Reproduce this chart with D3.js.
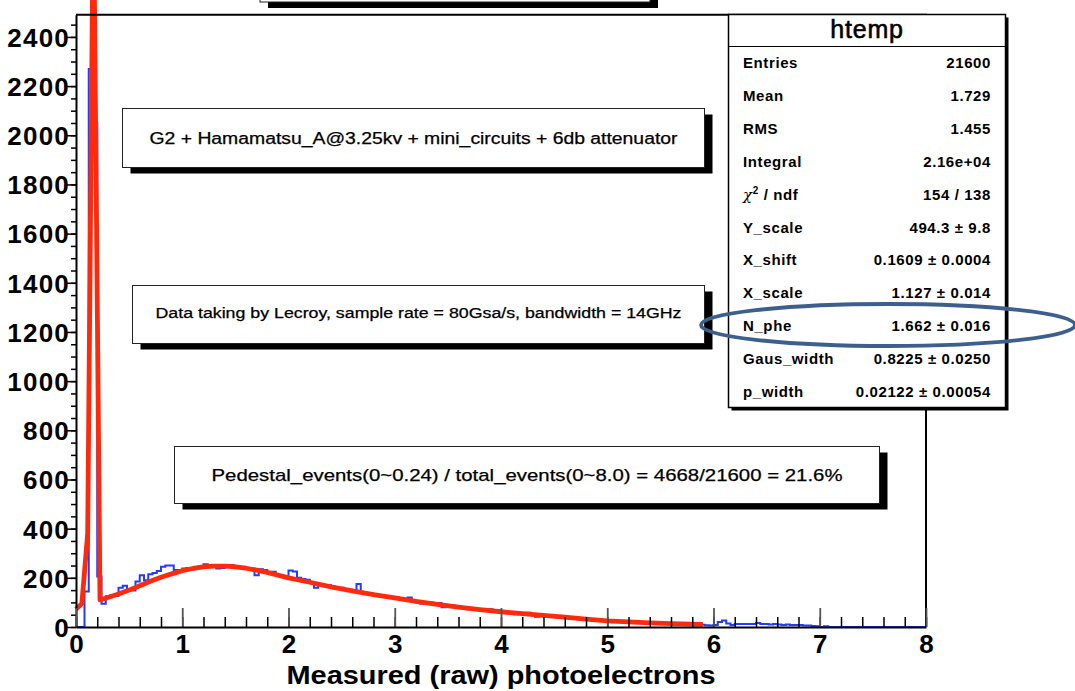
<!DOCTYPE html>
<html>
<head>
<meta charset="utf-8">
<script src="https://cdn.jsdelivr.net/npm/d3@7/dist/d3.min.js"></script>
<style>
  body { margin: 0; background: #fff; }
  svg { display: block; font-family: "Liberation Sans", Arial, Helvetica, sans-serif; }
</style>
</head>
<body>
<div class="chart"></div>
<script>
// histogram htemp: 200 bins of 0.04 from 0 to 8
const xMin = 0;
const xMax = 8;
const binWidth = 0.04;
const counts = [
    0, 0, 144, 2270, 2049, 205, 95, 125, 128, 126,
    160, 168, 150, 148, 185, 210, 190, 215, 220, 228,
    245, 250, 250, 232, 232, 238, 240, 235, 240, 248,
    255, 252, 250, 238, 240, 248, 252, 245, 240, 243,
    237, 238, 210, 235, 232, 220, 225, 212, 208, 205,
    230, 226, 200, 195, 192, 180, 160, 175, 168, 170,
    165, 158, 160, 150, 152, 145, 175, 138, 135, 132,
    130, 128, 125, 120, 118, 120, 112, 115, 120, 108,
    100, 95, 102, 100, 92, 98, 80, 86, 88, 84,
    78, 80, 72, 74, 70, 68, 66, 72, 66, 68,
    60, 58, 56, 52, 54, 50, 58, 48, 42, 46,
    44, 45, 44, 40, 38, 36, 34, 36, 32, 30,
    28, 30, 27, 26, 25, 24, 22, 24, 20, 21,
    19, 18, 20, 16, 17, 15, 16, 14, 15, 12,
    13, 10, 12, 10, 11, 9, 8, 9, 7, 6,
    8, 20, 26, 14, 8, 12, 12, 12, 12, 12,
    16, 12, 12, 10, 12, 10, 8, 10, 8, 8,
    8, 6, 6, 4, 3, 0, 3, 0, 0, 0,
    0, 0, 0, 0, 0, 0, 0, 0, 0, 0,
    0, 0, 0, 0, 0, 0, 0, 0, 0, 0
];

// fitted function
const fitX = [0, 0.055, 0.11, 0.164, 0.226, 0.3, 0.4, 0.5, 0.6, 0.7, 0.8, 0.9, 1.0, 1.1, 1.2, 1.3, 1.4,
    1.5, 1.6, 1.7, 1.8, 1.9, 2.0, 2.2, 2.4, 2.6, 2.8, 3.0, 3.2, 3.4, 3.6, 3.8, 4.0, 4.2, 4.4, 4.6,
    4.8, 5.0, 5.2, 5.4, 5.6, 5.8, 5.9];
const fitY = [72, 95, 380, 3000, 110, 120, 134, 150, 168, 186, 202, 216, 229, 238, 245, 248, 248,
    245, 239, 231, 222, 211, 200, 182, 163, 147, 132, 118, 104, 92, 81, 71, 62, 54, 47, 40,
    32, 25, 21, 17, 14, 12, 11];

const yMax = 2490;
const yTicks = [0, 200, 400, 600, 800, 1000, 1200, 1400, 1600, 1800, 2000, 2200, 2400];
const xTicks = [0, 1, 2, 3, 4, 5, 6, 7, 8];
const xTitle = "Measured (raw) photoelectrons";

const statTitle = "htemp";
const statLabels = ["Entries", "Mean", "RMS", "Integral", "chi2", "Y_scale", "X_shift", "X_scale",
    "N_phe", "Gaus_width", "p_width"];
const statValues = ["21600", "1.729", "1.455", "2.16e+04", "154 / 138", "494.3 \u00b1 9.8",
    "0.1609 \u00b1 0.0004", "1.127 \u00b1 0.014", "1.662 \u00b1 0.016", "0.8225 \u00b1 0.0250",
    "0.02122 \u00b1 0.00054"];

const noteTexts = [
    "G2 + Hamamatsu_A@3.25kv + mini_circuits + 6db attenuator",
    "Data taking by Lecroy, sample rate = 80Gsa/s, bandwidth = 14GHz",
    "Pedestal_events(0~0.24) / total_events(0~8.0) = 4668/21600 = 21.6%"
];

const W = 1075, H = 691;
const frame = { left: 76, right: 926, top: 14.8, bottom: 627 };

const svg = d3.select(".chart").append("svg")
    .attr("width", W)
    .attr("height", H);

const x = d3.scaleLinear().domain([xMin, xMax]).range([frame.left, frame.right]);
const y = d3.scaleLinear().domain([0, yMax]).range([frame.bottom, frame.top]);

// histogram as a step outline
const histPts = counts.map((c, i) => [xMin + i * binWidth, c]);
histPts.push([xMax, counts[counts.length - 1]]);
const stepLine = d3.line()
    .x(d => x(d[0]))
    .y(d => y(d[1]))
    .curve(d3.curveStepAfter);
svg.append("path")
    .attr("d", stepLine(histPts))
    .attr("fill", "none")
    .attr("stroke", "#1f3cff")
    .attr("stroke-width", 2);

// fit curve (drawn over the frame, not clipped)
const fitLine = d3.line()
    .x((d, i) => x(fitX[i]))
    .y(d => y(d));
svg.append("path")
    .attr("d", fitLine(fitY))
    .attr("fill", "none")
    .attr("stroke", "#ff2a0c")
    .attr("stroke-width", 4.8)
    .attr("stroke-linejoin", "round");

// frame (top and right)
svg.append("path")
    .attr("d", `M${frame.left},${frame.top}H${frame.right}V${frame.bottom}`)
    .attr("fill", "none")
    .attr("stroke", "#000")
    .attr("stroke-width", 2);

// y axis: ticks on the outside
const yMinor = d3.range(0, yMax, 50);
svg.append("g")
    .attr("transform", `translate(${frame.left},0)`)
    .call(d3.axisLeft(y).tickValues(yMinor).tickSize(5).tickSizeOuter(0).tickFormat(""))
    .call(g => g.select(".domain").remove())
    .call(g => g.selectAll("line").attr("stroke-width", 1.5));
const yAxis = svg.append("g")
    .attr("transform", `translate(${frame.left},0)`)
    .call(d3.axisLeft(y).tickValues(yTicks).tickSize(9).tickSizeOuter(0).tickFormat(d3.format("d")));
yAxis.select(".domain").attr("stroke-width", 2);
yAxis.selectAll("line").attr("stroke-width", 1.5);
yAxis.selectAll("text")
    .attr("x", -6)
    .attr("dy", "0.36em")
    .attr("font-size", 26)
    .attr("font-weight", "bold")
    .attr("letter-spacing", 1.2)
    .attr("fill", "#000")
    .style("font-family", "'Liberation Sans', Arial, sans-serif");

// x axis: ticks pointing up into the plot
const xMinor = d3.range(0, 8.001, 0.2);
svg.append("g")
    .attr("transform", `translate(0,${frame.bottom})`)
    .call(d3.axisTop(x).tickValues(xMinor).tickSize(10).tickSizeOuter(0).tickFormat(""))
    .call(g => g.select(".domain").remove())
    .call(g => g.selectAll("line").attr("stroke-width", 1.5));
svg.append("g")
    .attr("transform", `translate(0,${frame.bottom})`)
    .call(d3.axisTop(x).tickValues(xTicks).tickSize(19).tickSizeOuter(0).tickFormat(""))
    .call(g => g.select(".domain").remove())
    .call(g => g.selectAll("line").attr("stroke", "#555").attr("stroke-width", 1.8));
const xAxis = svg.append("g")
    .attr("transform", `translate(0,${frame.bottom})`)
    .call(d3.axisBottom(x).tickValues(xTicks).tickSize(0).tickSizeOuter(0).tickFormat(d3.format("d")));
xAxis.select(".domain").attr("stroke-width", 2.2);
xAxis.selectAll("text")
    .attr("y", 8)
    .attr("dy", "0.71em")
    .attr("font-size", 26)
    .attr("font-weight", "bold")
    .attr("fill", "#000")
    .style("font-family", "'Liberation Sans', Arial, sans-serif");

svg.append("text")
    .attr("x", 501)
    .attr("y", 684)
    .attr("text-anchor", "middle")
    .attr("font-size", 26)
    .attr("font-weight", "bold")
    .attr("textLength", 429)
    .attr("lengthAdjust", "spacingAndGlyphs")
    .text(xTitle);

// text boxes with drop shadow
function drawPave(bx, by, bw, bh, off, label, fs, tw, ty) {
    const g = svg.append("g");
    g.append("rect")
        .attr("x", bx + off[0]).attr("y", by + off[1])
        .attr("width", bw).attr("height", bh)
        .attr("fill", "#000");
    g.append("rect")
        .attr("x", bx).attr("y", by)
        .attr("width", bw).attr("height", bh)
        .attr("fill", "#fff")
        .attr("stroke", "#222")
        .attr("stroke-width", 1);
    if (label) {
        g.append("text")
            .attr("x", bx + bw / 2)
            .attr("y", ty)
            .attr("text-anchor", "middle")
            .attr("font-size", fs)
            .attr("stroke", "#000")
            .attr("stroke-width", 0.25)
            .attr("textLength", tw)
            .attr("lengthAdjust", "spacingAndGlyphs")
            .text(label);
    }
    return g;
}

drawPave(260, -40, 390, 42, [8, 6], null);
drawPave(122.5, 108.5, 582, 59, [8, 6], noteTexts[0], 16, 528, 144);
drawPave(132.5, 285.5, 572, 58, [8, 6], noteTexts[1], 14, 526, 318);
drawPave(174.5, 446.5, 705, 57, [8, 6], noteTexts[2], 17, 631, 481);

// statistics box
const sb = { x: 728.5, y: 14.5, w: 277, h: 393 };
svg.append("rect")
    .attr("x", sb.x + 3).attr("y", sb.y + 3)
    .attr("width", sb.w).attr("height", sb.h)
    .attr("fill", "#000");
svg.append("rect")
    .attr("x", sb.x).attr("y", sb.y)
    .attr("width", sb.w).attr("height", sb.h)
    .attr("fill", "#fff")
    .attr("stroke", "#000")
    .attr("stroke-width", 1.5);
svg.append("line")
    .attr("x1", sb.x).attr("x2", sb.x + sb.w)
    .attr("y1", 46.5).attr("y2", 46.5)
    .attr("stroke", "#000")
    .attr("stroke-width", 1.2);
svg.append("text")
    .attr("x", sb.x + sb.w / 2)
    .attr("y", 38)
    .attr("text-anchor", "middle")
    .attr("font-size", 25)
    .attr("letter-spacing", 0.8)
    .attr("stroke", "#000")
    .attr("stroke-width", 0.6)
    .text(statTitle);

const rowY = d3.scalePoint().domain(d3.range(statLabels.length)).range([68, 397]);
const rows = svg.append("g").selectAll("g")
    .data(statLabels)
    .join("g")
    .attr("font-size", 15)
    .attr("font-weight", "bold")
    .attr("letter-spacing", 0.6);
rows.append("text")
    .attr("x", 743)
    .attr("y", (d, i) => rowY(i))
    .each(function (d) {
        const t = d3.select(this);
        if (d === "chi2") {
            t.append("tspan").attr("font-family", "'DejaVu Serif', serif")
                .attr("font-style", "italic").attr("font-weight", "normal").text("\u03c7");
            t.append("tspan").attr("font-size", 10).attr("dy", -6).text("2");
            t.append("tspan").attr("dy", 6).text(" / ndf");
        } else {
            t.text(d);
        }
    });
rows.append("text")
    .attr("x", 991)
    .attr("y", (d, i) => rowY(i))
    .attr("text-anchor", "end")
    .text((d, i) => statValues[i]);

// highlight ellipse around N_phe
svg.append("ellipse")
    .attr("cx", 888)
    .attr("cy", 325)
    .attr("rx", 187)
    .attr("ry", 21)
    .attr("fill", "none")
    .attr("stroke", "#3d5f8e")
    .attr("stroke-width", 3.8);
</script>
</body>
</html>
